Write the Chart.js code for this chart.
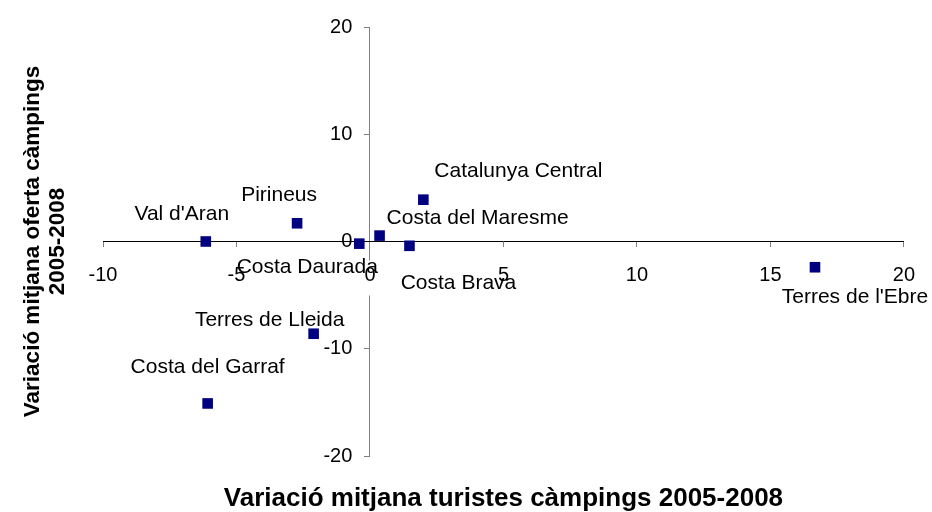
<!DOCTYPE html>
<html>
<head>
<meta charset="utf-8">
<script src="https://cdn.jsdelivr.net/npm/chart.js@4"></script>
<style>
  html, body { margin: 0; padding: 0; background: #fff; }
  #wrap { width: 932px; height: 512px; }
</style>
</head>
<body>
<div id="wrap"><canvas id="myChart"></canvas></div>
<script>
// dades
const zones = ["Val d'Aran", "Pirineus", "Costa Daurada", "Costa del Maresme", "Costa Brava",
  "Catalunya Central", "Terres de l'Ebre", "Terres de Lleida", "Costa del Garraf"];
const turistes = [-6.15, -2.73, -0.4, 0.36, 1.48, 2.0, 16.67, -2.11, -6.08];
const oferta = [0.0, 1.7, -0.2, 0.55, -0.4, 3.9, -2.4, -8.6, -15.1];
const xTicks = [-10, -5, 0, 5, 10, 15, 20];
const yTicks = [-20, -10, 0, 10, 20];

const font = '"Liberation Sans", Arial, sans-serif';

// on va cada etiqueta respecte del punt (px)
const desplacaments = {
  "Val d'Aran": [-24, -27],
  "Pirineus": [-18, -28],
  "Costa Daurada": [-52, 24],
  "Costa del Maresme": [98, -17],
  "Costa Brava": [49, 37],
  "Catalunya Central": [95, -28],
  "Terres de l'Ebre": [40, 30],
  "Terres de Lleida": [-44, -14],
  "Costa del Garraf": [0, -36]
};

const etiquetes = {
  id: 'etiquetes',
  afterDatasetsDraw(chart) {
    const ctx = chart.ctx;
    const punts = chart.getDatasetMeta(0).data;
    ctx.save();
    ctx.font = '21px ' + font;
    ctx.fillStyle = '#000';
    ctx.textAlign = 'center';
    ctx.textBaseline = 'middle';
    punts.forEach((p, i) => {
      const off = desplacaments[zones[i]];
      ctx.fillText(zones[i], p.x + off[0], p.y + off[1]);
    });
    ctx.restore();
  }
};

const ctx = document.getElementById('myChart');

new Chart(ctx, {
  type: 'scatter',
  data: {
    datasets: [{
      data: zones.map((z, i) => ({ x: turistes[i], y: oferta[i] })),
      pointStyle: 'rect',
      pointRadius: 7.5,
      backgroundColor: '#000080',
      borderColor: '#000080',
      borderWidth: 0
    }]
  },
  options: {
    responsive: true,
    maintainAspectRatio: false,
    animation: false,
    events: [],
    layout: { padding: { left: 0, right: 27, top: 27, bottom: 0 } },
    plugins: {
      legend: { display: false },
      tooltip: { enabled: false },
      title: {
        display: true,
        position: 'bottom',
        fullSize: false,
        text: 'Variació mitjana turistes càmpings 2005-2008',
        color: '#000',
        font: { family: font, size: 26, weight: 'bold', lineHeight: 1 },
        padding: { top: 29.5, bottom: 0.5 }
      },
      subtitle: {
        display: true,
        position: 'left',
        fullSize: false,
        text: ['Variació mitjana oferta càmpings', '2005-2008'],
        color: '#000',
        font: { family: font, size: 22.5, weight: 'bold', lineHeight: '25px' },
        padding: { top: 20.5, bottom: 32.5 }
      }
    },
    scales: {
      x: {
        type: 'linear',
        position: { y: 0 },
        min: -10,
        max: 20,
        afterBuildTicks: s => { s.ticks = xTicks.map(v => ({ value: v })); },
        border: { color: '#000', width: 1 },
        grid: { drawOnChartArea: false, drawTicks: true, tickLength: 5, color: '#808080' },
        ticks: {
          color: '#000',
          font: { family: font, size: 20 },
          padding: 17,
          maxRotation: 0,
          showLabelBackdrop: true,
          backdropColor: '#fff',
          backdropPadding: { top: 3, bottom: 8, left: 1, right: 1 }
        }
      },
      y: {
        type: 'linear',
        position: { x: 0 },
        min: -20,
        max: 20,
        afterBuildTicks: s => { s.ticks = yTicks.map(v => ({ value: v })); },
        border: { color: '#808080', width: 1, z: -1 },
        grid: { drawOnChartArea: false, drawTicks: true, tickLength: 5, color: '#808080', z: -1 },
        ticks: { display: false }
      },
      // etiquetes de l'eix Y, a l'esquerra de l'eix
      yEtiq: {
        type: 'linear',
        position: { x: -0.66 },
        min: -20,
        max: 20,
        afterBuildTicks: s => { s.ticks = yTicks.map(v => ({ value: v })); },
        border: { display: false },
        grid: { display: false },
        ticks: {
          color: '#000',
          font: { family: font, size: 20 }
        }
      }
    }
  },
  plugins: [etiquetes]
});
</script>
</body>
</html>
